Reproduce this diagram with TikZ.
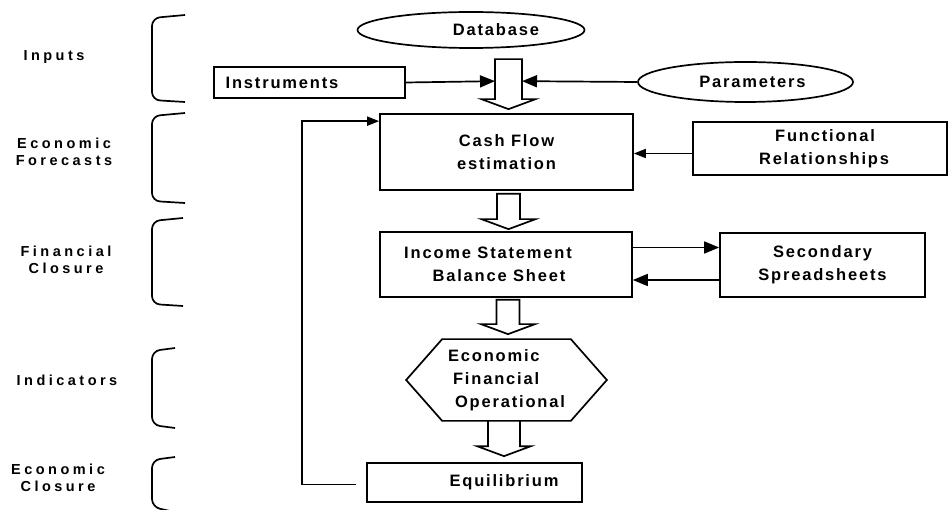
\documentclass[tikz,border=0pt]{standalone}
\usepackage{fontspec}
\newfontfamily\mainf{Liberation Sans}[LetterSpace=11]
\newfontfamily\sidef{Liberation Sans}[LetterSpace=24]
\usetikzlibrary{shapes.geometric,calc,arrows.meta}
\newcommand{\hollowarrow}[3]{%
  \draw[hollow] let \p1=(#1), \p2=(#2) in
    (\x1-#3,\y1) -- (\x1+#3,\y1) -- (\x1+#3,\y2+10pt) -- (\x1+27pt,\y2+10pt)
    -- (\x1,\y2) -- (\x1-27pt,\y2+10pt) -- (\x1-#3,\y2+10pt) -- cycle;}
\tikzset{
  ln/.style={line width=1.7pt},
  box/.style={draw, ln, rectangle, inner sep=2pt, align=center,
    font=\mainf\bfseries\fontsize{16.5}{23}\selectfont},
  ell/.style={draw, ln, ellipse, inner sep=1pt,
    font=\mainf\bfseries\fontsize{16.5}{23}\selectfont},
  side/.style={align=center, font=\sidef\bfseries\fontsize{14.5}{17}\selectfont},
  arr/.style={ln, -{Triangle[length=12pt,width=9pt]}},
  bigarr/.style={ln, -{Triangle[length=15pt,width=12pt]}},
  hollow/.style={ln, fill=white, line join=miter},
  brk/.style={ln, rounded corners=8pt},
}
\begin{document}
\begin{tikzpicture}[x=1pt,y=-1pt]
\useasboundingbox[fill=white] (0,0) rectangle (950,510);

% left labels
\node[side] (linp) at (54,57) {Inputs};
\node[side] (lecf) at (64,152) {Economic\\Forecasts};
\node[side] (lfin) at (66,260) {Financial\\Closure};
\node[side] (lind) at (67,380) {Indicators};
\node[side] (lecc) at (58,478) {Economic\\Closure};

% brackets
\draw[brk] (185,15) -- (152,18) -- (152,100) -- (185,102);
\draw[brk] (185,113) -- (152,116) -- (152,201) -- (185,203);
\draw[brk] (183,218) -- (152,221) -- (152,304) -- (183,306);
\draw[brk] (175,348) -- (152,351) -- (152,425) -- (175,428);
\draw[brk] (175,457) -- (152,460) -- (152,507) -- (170,511);

% main nodes
\node[ell, minimum width=227, minimum height=36] (db) at (471,30) {\hspace*{50pt}Database};
\node[box, minimum width=191, minimum height=31] (ins) at (309.5,82.5) {Instruments\hspace*{55pt}};
\node[ell, minimum width=215, minimum height=40] (par) at (745.5,82) {\hspace*{14pt}Parameters};
\node[box, minimum width=253, minimum height=76] (cash) at (506.5,152) {Cash Flow\\estimation};
\node[box, minimum width=254, minimum height=53] (fun) at (820,148.5) {\hspace*{10pt}Functional\\\hspace*{8pt}Relationships};
\node[box, minimum width=252, minimum height=65] (inc) at (506,264.5) {Income Statement\hspace*{36pt}\\Balance Sheet\hspace*{14pt}};
\node[box, minimum width=205, minimum height=64] (sec) at (822.5,265) {Secondary\\Spreadsheets};
\node[box, draw=none, align=left, inner sep=0pt, minimum width=127, minimum height=80] (hexb) at (506.5,380)
  {Economic\\\hspace*{5pt}Financial\\\hspace*{7pt}Operational};
\draw[ln, line join=miter] (hexb.north west) -- (hexb.north east) -- ($(hexb.east)+(36,0)$)
  -- (hexb.south east) -- (hexb.south west) -- ($(hexb.west)+(-36,0)$) -- cycle;
\node[box, minimum width=215, minimum height=39] (eq) at (474.5,482.5) {\hspace*{59pt}Equilibrium};

% hollow block arrows
\hollowarrow{$(cash.north)+(2,-54)$}{$(cash.north)+(2,-4)$}{13.5pt}
\hollowarrow{$(cash.south)+(2,3)$}{$(inc.north)+(2,-2)$}{11.5pt}
\hollowarrow{$(inc.south)+(2,2)$}{$(hexb.north)+(2,-5)$}{11.5pt}
\hollowarrow{$(hexb.south)+(-2.5,0)$}{$(eq.north)+(30,-6)$}{16pt}

% connectors
\draw[bigarr] (ins.east) -- ($(cash.north)+(-11.5,-32)$);
\draw[bigarr] (par.west) -- ($(cash.north)+(15.5,-32)$);
\draw[arr] ([yshift=-5pt]fun.west) -- ([yshift=-5pt]fun.west -| cash.east);
\draw[bigarr] ([yshift=17pt]inc.east) -- ([yshift=17pt]inc.east -| sec.west);
\draw[bigarr] ([yshift=-15pt]sec.west) -- ([yshift=-15pt]sec.west -| inc.east);
\draw[arr] ([xshift=-10pt,yshift=-2pt]eq.west) -- ++(-54,0) |- ([yshift=-8pt]cash.north west);
\end{tikzpicture}
\end{document}
